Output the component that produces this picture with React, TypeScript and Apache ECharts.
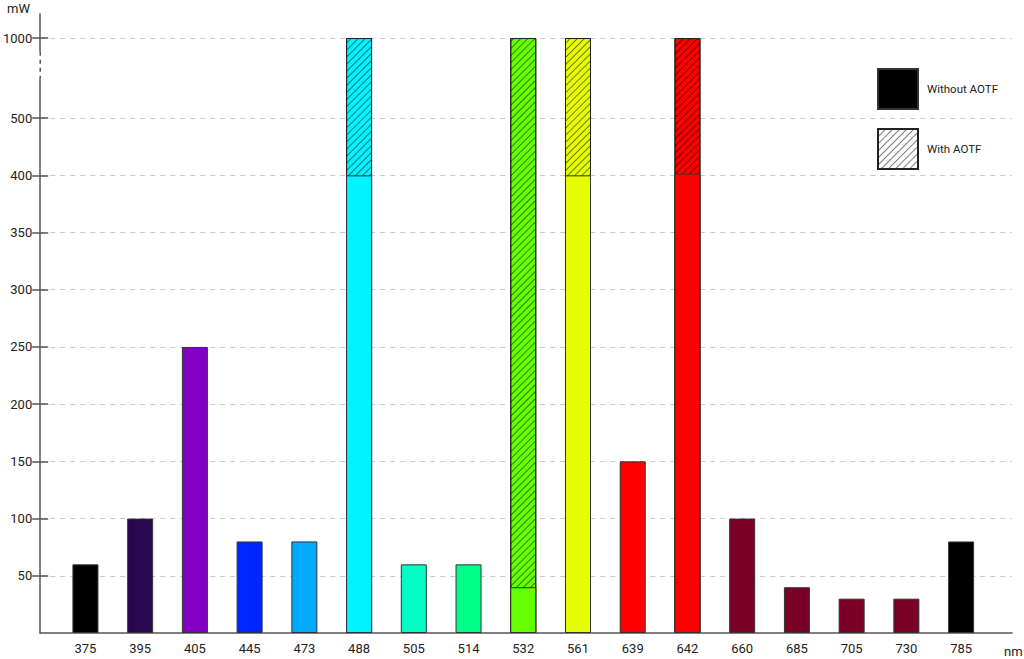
import React, { useEffect, useRef } from "react";
import * as echarts from "echarts";

// ---- data ----
const wavelengths = ["375", "395", "405", "445", "473", "488", "505", "514", "532", "561", "639", "642", "660", "685", "705", "730", "785"];
const withoutAOTF = [60, 100, 250, 80, 80, 400, 60, 60, 40, 400, 150, 403, 100, 40, 30, 30, 80];
const withAOTF: (number | null)[] = [null, null, null, null, null, 1000, null, null, 1000, 1000, null, 1000, null, null, null, null, null];
const barColors = ["#000000", "#28084f", "#8200c4", "#0026ff", "#00aaff", "#00f4ff", "#00ffc4", "#00ff88", "#66ff00", "#e6ff00", "#ff0000", "#ff0000", "#7a0028", "#7a0028", "#7a0028", "#7a0028", "#000000"];
const yTickValues = [50, 100, 150, 200, 250, 300, 350, 400, 500, 1000];
const seriesNames = ["Without AOTF", "With AOTF"];

// broken y scale: linear to 400, compressed above
function toDisplay(v: number): number {
  if (v <= 400) return v;
  if (v <= 500) return 400 + (v - 400) * 0.5;
  return 450 + (v - 500) * 0.14;
}
function fromDisplay(d: number): number {
  if (d <= 400) return d;
  if (d <= 450) return 400 + (d - 400) * 2;
  return 500 + (d - 450) / 0.14;
}

const FONT = "Roboto";
const AXIS_COLOR = "#555";
const X_MIN = -0.826;
const X_MAX = 16.93;
const Y_MAX = 541;

export default function App() {
  const ref = useRef<HTMLDivElement>(null);
  useEffect(() => {
    if (!ref.current) return;
    const chart = echarts.init(ref.current, undefined, { renderer: "svg" });
    const yCustom = yTickValues.map(toDisplay);
    const xCustom = wavelengths.map((_, i) => i);

    const option: any = {
      animation: false,
      backgroundColor: "#fff",
      grid: { left: 38, right: 12, top: 14, bottom: 26 },
      legend: {
        orient: "vertical",
        left: 877,
        top: 68,
        padding: 0,
        itemWidth: 40,
        itemHeight: 40,
        itemGap: 18,
        icon: "rect",
        data: seriesNames,
        textStyle: { fontFamily: FONT, fontSize: 11.5, color: "#222", padding: [0, 0, 0, 4] },
      },
      xAxis: {
        type: "value",
        min: X_MIN,
        max: X_MAX,
        axisLine: { show: true, onZero: false, lineStyle: { color: AXIS_COLOR, width: 1.5 } },
        axisTick: { show: false },
        splitLine: { show: false },
        axisLabel: {
          customValues: xCustom,
          formatter: (v: number) => wavelengths[Math.round(v)] ?? "",
          margin: 9,
          fontFamily: FONT,
          fontSize: 13,
          color: "#222",
        },
      },
      yAxis: [
        {
          type: "value",
          min: 0,
          max: Y_MAX,
          position: "left",
          axisLine: { show: true, onZero: false, lineStyle: { color: AXIS_COLOR, width: 1.5 } },
          axisTick: { show: true, length: 8, customValues: yCustom, lineStyle: { color: AXIS_COLOR, width: 1.5 } },
          axisLabel: {
            customValues: yCustom,
            formatter: (v: number) => String(Math.round(fromDisplay(v))),
            margin: 8,
            fontFamily: FONT,
            fontSize: 13,
            color: "#222",
          },
          splitLine: { show: true, lineStyle: { color: "#c8c8c8", type: [5, 5], width: 1 } },
        },
        {
          type: "value",
          min: 0,
          max: Y_MAX,
          position: "left",
          axisLine: { show: false, onZero: false },
          axisTick: { show: true, inside: true, length: 8, customValues: yCustom, lineStyle: { color: AXIS_COLOR, width: 1.5 } },
          axisLabel: { show: false },
          splitLine: { show: false },
        },
      ],
      series: [
        {
          name: seriesNames[1],
          type: "bar",
          barWidth: 26,
          barGap: "-100%",
          z: 2,
          itemStyle: {
            color: "#fff",
            borderColor: "#222",
            borderWidth: 1,
            decal: {
              symbol: "rect",
              symbolSize: 1,
              color: "rgba(0,0,0,0.5)",
              dashArrayX: [1, 0],
              dashArrayY: [1, 4],
              rotation: -Math.PI / 4,
            },
          },
          data: withAOTF.map((v, i) =>
            v == null ? { value: [i, "-"] } : { value: [i, toDisplay(v)], itemStyle: { color: barColors[i] } }
          ),
        },
        {
          name: seriesNames[0],
          type: "bar",
          barWidth: 26,
          barGap: "-100%",
          z: 3,
          itemStyle: { color: "#000", borderColor: "#333", borderWidth: 1 },
          data: withoutAOTF.map((v, i) => ({ value: [i, toDisplay(v)], itemStyle: { color: barColors[i] } })),
        },
      ],
    };
    chart.setOption(option);

    const top = chart.convertToPixel({ gridIndex: 0 } as any, [X_MIN, 508]) as number[];
    const bot = chart.convertToPixel({ gridIndex: 0 } as any, [X_MIN, 485]) as number[];
    chart.setOption({
      graphic: [
        {
          type: "rect",
          z: 100,
          shape: { x: top[0] - 3, y: top[1], width: 6, height: bot[1] - top[1] },
          style: { fill: "#fff" },
        },
        {
          type: "line",
          z: 101,
          shape: { x1: top[0], y1: top[1], x2: top[0], y2: bot[1] },
          style: { stroke: AXIS_COLOR, lineWidth: 1.5, lineDash: [4, 4] },
        },
        {
          type: "text",
          z: 101,
          x: 30,
          y: 8,
          style: { text: "mW", align: "right", verticalAlign: "middle", fontFamily: FONT, fontSize: 13, fill: "#222" },
        },
        {
          type: "text",
          z: 101,
          x: 1004,
          y: 651,
          style: { text: "nm", align: "left", verticalAlign: "middle", fontFamily: FONT, fontSize: 13, fill: "#222" },
        },
      ],
    });

    return () => chart.dispose();
  }, []);
  return <div ref={ref} style={{ position: "fixed", left: 0, top: 0, width: 1024, height: 659 }} />;
}
